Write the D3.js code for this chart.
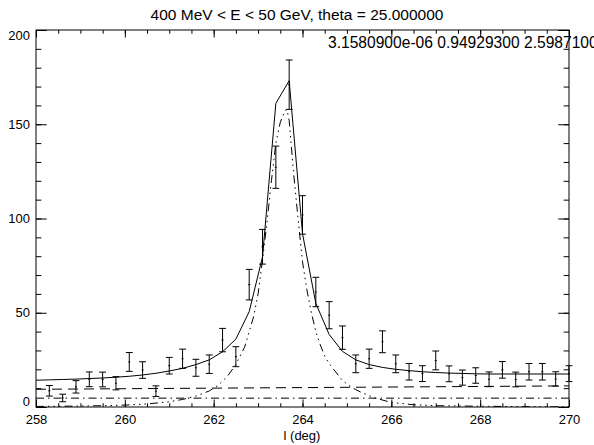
<!DOCTYPE html>
<html>
<head>
<meta charset="utf-8">
<script src="https://cdn.jsdelivr.net/npm/d3@7"></script>
<style>
  html, body { margin: 0; padding: 0; background: #fff; }
  svg { display: block; }
  text { font-family: "Liberation Sans", Arial, Helvetica, sans-serif; fill: #000; }
</style>
</head>
<body>
<svg id="chart" width="594" height="445"></svg>
<script>
// Binned counts with statistical errors
const binX = [258.3, 258.6, 258.9, 259.2, 259.5, 259.8, 260.1, 260.4, 260.7, 261.0,
              261.3, 261.6, 261.9, 262.2, 262.5, 262.8, 263.1, 263.4, 263.7, 264.0,
              264.3, 264.6, 264.9, 265.2, 265.5, 265.8, 266.1, 266.4, 266.7, 267.0,
              267.3, 267.6, 267.9, 268.2, 268.5, 268.8, 269.1, 269.4, 269.7, 270.0];
const counts = [8.6, 4.8, 10.7, 14.7, 14.6, 12.6, 23.9, 19.6, 8.4, 21.9,
                25.6, 20.8, 22.7, 35.5, 26.7, 64.9, 85.0, 127.2, 171.0, 101.9,
                61.0, 48.7, 36.8, 22.9, 25.6, 34.6, 22.9, 18.7, 17.7, 24.7,
                17.6, 15.6, 16.7, 14.7, 19.7, 14.6, 18.7, 18.7, 14.9, 17.7];
const errors = [2.8, 2.0, 3.3, 3.9, 3.9, 3.5, 5.0, 4.4, 2.8, 4.4,
                5.1, 4.5, 4.9, 6.2, 5.3, 8.1, 9.2, 11.2, 13.1, 10.2,
                7.8, 7.2, 6.2, 4.7, 5.1, 5.8, 4.7, 4.4, 4.2, 5.0,
                4.2, 4.0, 4.1, 3.9, 4.4, 3.9, 4.4, 4.4, 3.8, 4.2];

// Total fitted model (source + backgrounds)
const modelX = [258.0, 258.3, 258.6, 258.9, 259.2, 259.5, 259.8, 260.1, 260.4, 260.7,
                261.0, 261.3, 261.6, 261.9, 262.2, 262.5, 262.8, 263.1, 263.4, 263.7,
                264.0, 264.3, 264.6, 264.9, 265.2, 265.5, 265.8, 266.1, 266.4, 266.7,
                267.0, 267.3, 267.6, 267.9, 268.2, 268.5, 268.8, 269.1, 269.4, 269.7, 270.0];
const modelTotal = [14.2, 14.4, 14.6, 14.8, 15.1, 15.4, 15.8, 16.3, 17.0, 17.9,
                    19.1, 20.5, 22.5, 25.0, 29.3, 36.0, 50.6, 79.7, 161.1, 173.1,
                    92.0, 55.0, 38.5, 29.5, 25.0, 22.5, 21.0, 20.0, 19.3, 18.7,
                    18.3, 18.0, 17.8, 17.6, 17.5, 17.5, 17.5, 17.5, 17.5, 17.5, 17.5];

// Source component
const srcX = [258.0, 258.5, 259.0, 259.5, 260.0, 260.5, 261.0, 261.3, 261.6, 261.9,
              262.1, 262.3, 262.5, 262.7, 262.9, 263.0, 263.1, 263.2, 263.3, 263.4,
              263.5, 263.6, 263.65, 263.7, 263.8, 263.9, 264.0, 264.1, 264.2, 264.3,
              264.4, 264.5, 264.6, 264.7, 264.9, 265.1, 265.3, 265.6, 266.0, 266.5,
              267.0, 268.0, 269.0, 270.0];
const srcY = [0.3, 0.4, 0.5, 0.7, 1.0, 1.6, 2.8, 4.0, 5.8, 8.5,
              11.5, 16.0, 22.5, 32.0, 48.0, 60.0, 78.0, 98.0, 120.0, 140.0,
              151.0, 157.0, 157.8, 152.0, 124.0, 100.0, 77.0, 62.0, 50.0, 40.0,
              33.0, 27.0, 23.0, 20.0, 14.0, 10.5, 8.0, 5.0, 2.4, 1.2,
              0.7, 0.4, 0.2, 0.1];

// Diffuse and isotropic backgrounds
const diffX = [258.0, 270.0];
const diffY = [9.4, 11.2];
const isoX = [258.0, 270.0];
const isoY = [4.7, 4.7];

// Axis ticks
const xMajor = [258, 260, 262, 264, 266, 268, 270];
const yMajor = [0, 50, 100, 150, 200];
const titleText = "400 MeV < E < 50 GeV, theta = 25.000000";
const fitText = "3.1580900e-06 0.94929300 2.5987100";
const xTitle = "l (deg)";

const svg = d3.select("#chart");
const L = 36, R = 569, T = 30, B = 407;
const x = d3.scaleLinear().domain([258, 270]).range([L, R]);
const y = d3.scaleLinear().domain([0, 200]).range([B, T]);

svg.append("defs").append("clipPath").attr("id", "plotclip")
  .append("rect").attr("x", L).attr("y", T).attr("width", R - L).attr("height", B - T);

const xMinor = d3.range(258, 270.001, 0.5);
const yMinor = d3.range(0, 200.001, 10);
const tx = 7.5, ty = 10.7;

function styleAxis(g) {
  g.select(".domain").remove();
  g.selectAll(".tick line").attr("stroke", "#000").attr("stroke-width", 1);
  g.selectAll("text").attr("font-size", 13).attr("font-family", "Liberation Sans, Arial, sans-serif");
}

// bottom
svg.append("g").attr("transform", `translate(0,${B})`)
  .call(d3.axisBottom(x).tickValues(xMinor).tickSize(-tx / 2).tickFormat(""))
  .call(styleAxis);
svg.append("g").attr("transform", `translate(0,${B})`)
  .call(d3.axisBottom(x).tickValues(xMajor).tickSize(-tx).tickPadding(8).tickFormat(d3.format("d")))
  .call(styleAxis);
// top
svg.append("g").attr("transform", `translate(0,${T})`)
  .call(d3.axisTop(x).tickValues(xMinor).tickSize(-tx / 2).tickFormat(""))
  .call(styleAxis);
svg.append("g").attr("transform", `translate(0,${T})`)
  .call(d3.axisTop(x).tickValues(xMajor).tickSize(-tx).tickFormat(""))
  .call(styleAxis);
// left
svg.append("g").attr("transform", `translate(${L},0)`)
  .call(d3.axisLeft(y).tickValues(yMinor).tickSize(-ty / 2).tickFormat(""))
  .call(styleAxis);
const yAx = svg.append("g").attr("transform", `translate(${L},0)`)
  .call(d3.axisLeft(y).tickValues(yMajor).tickSize(-ty).tickPadding(6).tickFormat(d3.format("d")))
  .call(styleAxis);
// keep end labels inside the axis span
yAx.selectAll(".tick").each(function(d) {
  const t = d3.select(this).select("text");
  if (d === 0) t.attr("dy", "-0.1em");
  if (d === 200) t.attr("dy", "0.75em");
});
// right
svg.append("g").attr("transform", `translate(${R},0)`)
  .call(d3.axisRight(y).tickValues(yMinor).tickSize(-ty / 2).tickFormat(""))
  .call(styleAxis);
svg.append("g").attr("transform", `translate(${R},0)`)
  .call(d3.axisRight(y).tickValues(yMajor).tickSize(-ty).tickFormat(""))
  .call(styleAxis);

// frame
svg.append("rect").attr("x", L).attr("y", T).attr("width", R - L).attr("height", B - T)
  .attr("fill", "none").attr("stroke", "#000").attr("stroke-width", 1);

const plot = svg.append("g").attr("clip-path", "url(#plotclip)");
const line = (xs, ys) => d3.line().x((d, i) => x(xs[i])).y((d, i) => y(ys[i]))(ys);

// backgrounds
plot.append("path").attr("d", line(diffX, diffY)).attr("fill", "none")
  .attr("stroke", "#000").attr("stroke-width", 1).attr("stroke-dasharray", "10,6");
plot.append("path").attr("d", line(isoX, isoY)).attr("fill", "none")
  .attr("stroke", "#000").attr("stroke-width", 1).attr("stroke-dasharray", "8,4,1.5,4");
// source
plot.append("path").attr("d", line(srcX, srcY)).attr("fill", "none")
  .attr("stroke", "#000").attr("stroke-width", 1).attr("stroke-dasharray", "8,4,1.5,4,1.5,4,1.5,4");
// total model
plot.append("path").attr("d", line(modelX, modelTotal)).attr("fill", "none")
  .attr("stroke", "#000").attr("stroke-width", 1);

// error bars
const eb = svg.append("g").attr("stroke", "#000").attr("stroke-width", 1);
binX.forEach((bx, i) => {
  const cx = x(bx), lo = y(counts[i] - errors[i]), hi = y(counts[i] + errors[i]);
  eb.append("line").attr("x1", cx).attr("x2", cx).attr("y1", lo).attr("y2", hi);
  eb.append("line").attr("x1", cx - 3.4).attr("x2", cx + 3.4).attr("y1", lo).attr("y2", lo);
  eb.append("line").attr("x1", cx - 3.4).attr("x2", cx + 3.4).attr("y1", hi).attr("y2", hi);
  eb.append("line").attr("x1", cx - 1).attr("x2", cx + 1).attr("y1", y(counts[i])).attr("y2", y(counts[i]));
});

// texts
svg.append("text").attr("x", 297).attr("y", 20).attr("text-anchor", "middle")
  .attr("font-size", 15.5).text(titleText);
svg.append("text").attr("x", 328).attr("y", 48).attr("font-size", 15.6).text(fitText);
svg.append("text").attr("x", 302).attr("y", 440).attr("text-anchor", "middle")
  .attr("font-size", 13).text(xTitle);
</script>
</body>
</html>
